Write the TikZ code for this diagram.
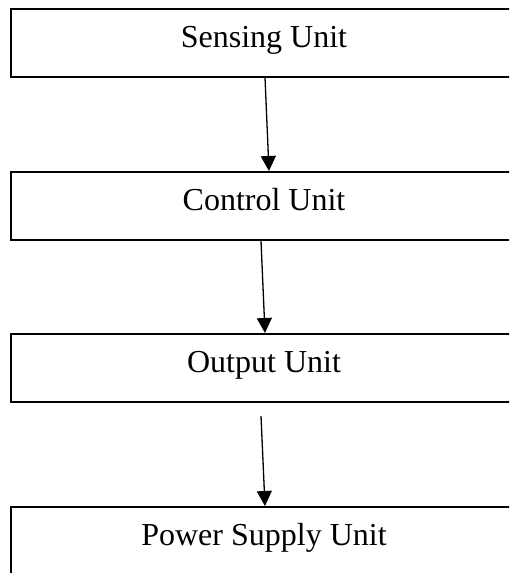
\documentclass[tikz,border=0pt]{standalone}
\usepackage{fontspec}
\setmainfont{Liberation Serif}
\usetikzlibrary{arrows.meta}

\tikzset{
    unitbox/.style={draw, line width=1pt, rectangle, minimum width=253pt,
        minimum height=34pt, text height=0.68em, text depth=0.2em,
        font=\fontsize{16}{19}\selectfont},
    flow/.style={line width=0.65pt, -{Triangle[length=7.5pt, width=7.5pt]}}
}

\begin{document}
\begin{tikzpicture}[x=0.5pt, y=-0.5pt]

    % Page frame
    \useasboundingbox (0,0) rectangle (509,573);
    \clip (0,0) rectangle (509,573);

    % The four units
    \node[unitbox] (sense) at (264, 42.5) {Sensing Unit};
    \node[unitbox] (ctrl)  at (264, 206)  {Control Unit};
    \node[unitbox] (out)   at (264, 368)  {Output Unit};
    \node[unitbox] (power) at (264, 541)  {Power Supply Unit};

    % Arrows between them
    \draw[flow] ([xshift=0.5pt]sense.south) -- ([xshift=2.5pt]ctrl.north);
    \draw[flow] ([xshift=-1.5pt]ctrl.south) -- ([xshift=0.5pt]out.north);
    \coordinate (gap) at ([xshift=-1.5pt, yshift=-6.5pt]out.south);
    \draw[flow] (gap) -- ([xshift=0.5pt]power.north);

\end{tikzpicture}
\end{document}
